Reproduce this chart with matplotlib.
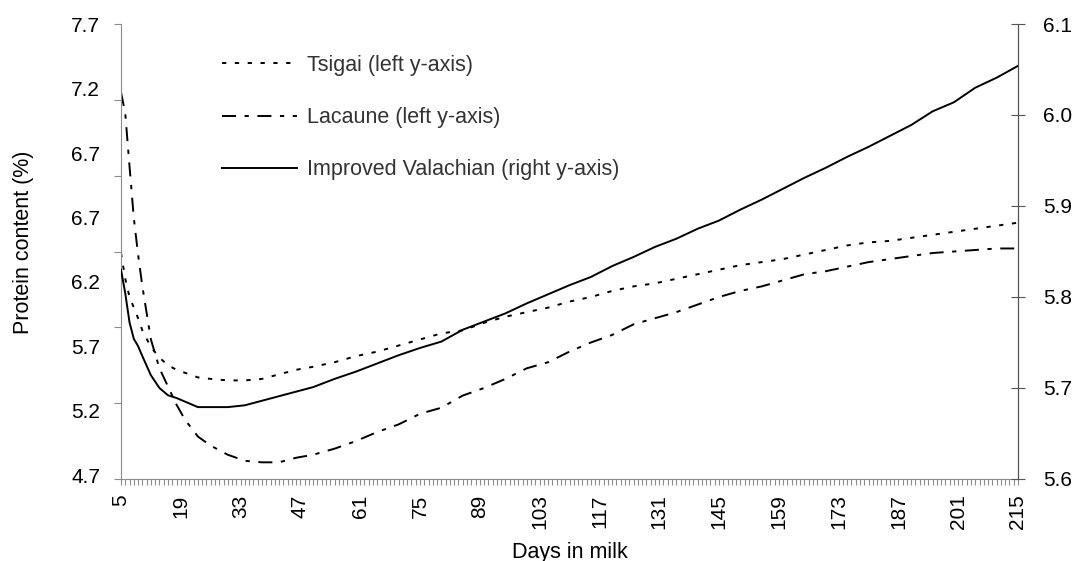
import numpy as np
import matplotlib
matplotlib.use('Agg')
import matplotlib.pyplot as plt
from matplotlib.ticker import NullFormatter, FixedLocator, FixedFormatter

plt.rcParams['font.family'] = ['Liberation Sans', 'DejaVu Sans']

days = [5, 6, 7, 8, 9, 10, 12, 14, 16, 18, 20, 23, 26, 30, 34, 38, 42, 46, 50, 55,
        60, 65, 70, 75, 80, 85, 90, 95, 100, 105, 110, 115, 120, 125, 130, 135,
        140, 145, 150, 155, 160, 165, 170, 175, 180, 185, 190, 195, 200, 205, 210, 215]

# Tsigai (left y-axis)
tsigai = [6.19, 6.02, 5.90, 5.83, 5.76, 5.68, 5.57, 5.50, 5.45, 5.42, 5.40, 5.37, 5.36,
          5.35, 5.35, 5.36, 5.39, 5.42, 5.44, 5.47, 5.51, 5.54, 5.58, 5.62, 5.66, 5.68,
          5.73, 5.77, 5.80, 5.83, 5.87, 5.90, 5.94, 5.97, 5.99, 6.02, 6.05, 6.08, 6.11,
          6.13, 6.15, 6.18, 6.21, 6.24, 6.26, 6.27, 6.29, 6.31, 6.33, 6.35, 6.37, 6.39]

# Lacaune (left y-axis)
lacaune = [7.25, 7.11, 6.76, 6.42, 6.18, 5.97, 5.62, 5.43, 5.31, 5.19, 5.09, 4.98, 4.92,
           4.86, 4.82, 4.81, 4.81, 4.84, 4.86, 4.90, 4.95, 5.01, 5.06, 5.13, 5.17, 5.25,
           5.30, 5.36, 5.43, 5.47, 5.54, 5.60, 5.65, 5.72, 5.76, 5.80, 5.85, 5.90, 5.94,
           5.97, 6.01, 6.05, 6.07, 6.10, 6.13, 6.15, 6.17, 6.19, 6.20, 6.21, 6.22, 6.22]

# Improved Valachian (right y-axis)
valachian = [5.830, 5.804, 5.772, 5.754, 5.746, 5.735, 5.714, 5.700, 5.692, 5.689, 5.685,
             5.679, 5.679, 5.679, 5.681, 5.686, 5.691, 5.696, 5.701, 5.710, 5.718, 5.727,
             5.736, 5.744, 5.751, 5.764, 5.773, 5.782, 5.793, 5.803, 5.813, 5.822, 5.834,
             5.844, 5.855, 5.864, 5.875, 5.884, 5.896, 5.907, 5.919, 5.931, 5.942, 5.954,
             5.965, 5.977, 5.989, 6.004, 6.014, 6.030, 6.041, 6.054]

xticks = list(range(5, 216, 14))
left_labels = ['4.7', '5.2', '5.7', '6.2', '6.7', '6.7', '7.2', '7.7']
right_ticks = [5.6, 5.7, 5.8, 5.9, 6.0, 6.1]

W, H = 1083, 561
fig = plt.figure(figsize=(W / 100, H / 100), dpi=100)
ax = fig.add_axes([121 / W, 1 - 479 / H, (1018 - 121) / W, (479 - 24) / H])
ax2 = ax.twinx()

lw = 1.4
l1, = ax.plot(days, tsigai, color='black', lw=lw, linestyle=(0, (2.2, 4.4)),
              label='Tsigai (left y-axis)')
l2, = ax.plot(days, lacaune, color='black', lw=lw, linestyle=(0, (7.2, 4.4, 2.2, 4.4)),
              label='Lacaune (left y-axis)')
l3, = ax2.plot(days, valachian, color='black', lw=lw, linestyle='-',
               label='Improved Valachian (right y-axis)')

ax.set_xlim(5, 215)
ax.set_ylim(4.7, 7.7)
ax2.set_ylim(5.6, 6.1)

# spines
for a in (ax, ax2):
    a.spines['top'].set_visible(False)
ax.spines['left'].set_color('#8c8c8c')
ax.spines['bottom'].set_color('#8c8c8c')
ax2.spines['left'].set_visible(False)
ax2.spines['bottom'].set_visible(False)
ax2.spines['right'].set_color('#555555')

# x axis
ax.set_xticks(xticks)
ax.set_xticks(range(5, 216), minor=True)
ax.set_xticklabels([str(t) for t in xticks], rotation=90, fontsize=15)
ax.tick_params(axis='x', which='both', direction='out', length=4, width=0.8,
               color='#8c8c8c', pad=7)
ax.set_xlabel('Days in milk', fontsize=15.5, labelpad=9)

# left y axis: tick marks and labels are spaced differently in the original
ax.yaxis.set_major_locator(FixedLocator(np.arange(4.7, 7.71, 0.5)))
ax.yaxis.set_major_formatter(NullFormatter())
ax.yaxis.set_minor_locator(FixedLocator(np.linspace(4.725, 7.699, 8)))
ax.yaxis.set_minor_formatter(FixedFormatter(left_labels))
ax.tick_params(axis='y', which='major', direction='out', length=5, width=0.8,
               color='#8c8c8c')
ax.tick_params(axis='y', which='minor', length=0, pad=15, labelsize=15)
ax.set_ylabel('Protein content (%)', fontsize=15.5)
ax.yaxis.set_label_coords(-0.097, 0.52)

# right y axis
ax2.set_yticks(right_ticks)
ax2.set_yticklabels(['%.1f' % v for v in right_ticks], fontsize=15)
ax2.tick_params(axis='y', direction='inout', length=10, width=0.8,
                color='#555555', pad=13)

fig.legend(handles=[l1, l2, l3], loc='upper left', frameon=False,
           bbox_to_anchor=(222 / W, 1 - 55 / H), bbox_transform=fig.transFigure,
           fontsize=15.5, handlelength=3.5, handletextpad=0.45, labelspacing=1.45,
           borderpad=0, borderaxespad=0, labelcolor='#333333')

fig.savefig('out.png', dpi=100)
